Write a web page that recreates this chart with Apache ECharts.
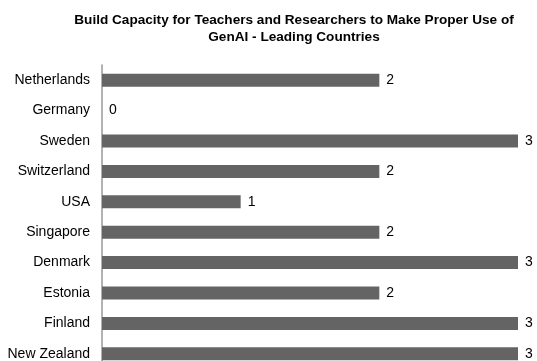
<!DOCTYPE html>
<html>
<head>
<meta charset="utf-8">
<script src="https://cdn.jsdelivr.net/npm/echarts@6/dist/echarts.min.js"></script>
<style>html,body{margin:0;padding:0;background:#fff}#chart{width:537px;height:361px}</style>
</head>
<body>
<div id="chart"></div>
<script>
// Countries, top to bottom, and their scores
const countries = ['Netherlands', 'Germany', 'Sweden', 'Switzerland', 'USA', 'Singapore', 'Denmark', 'Estonia', 'Finland', 'New Zealand'];
const scores = [2, 0, 3, 2, 1, 2, 3, 2, 3, 3];

const chart = echarts.init(document.getElementById('chart'));
chart.setOption({
  backgroundColor: '#ffffff',
  animation: false,
  title: {
    text: 'Build Capacity for Teachers and Researchers to Make Proper Use of\nGenAI - Leading Countries',
    left: 289,
    top: 7,
    textAlign: 'center',
    textStyle: {
      fontFamily: 'Liberation Sans, Arial, sans-serif',
      fontSize: 13.6,
      fontWeight: 'bold',
      color: '#000',
      lineHeight: 17
    }
  },
  grid: { left: 102, top: 65, width: 416, height: 304, containLabel: false, outerBoundsMode: 'none' },
  xAxis: {
    type: 'value',
    min: 0,
    max: 3,
    show: false
  },
  yAxis: {
    type: 'category',
    data: countries,
    inverse: true,
    axisLine: { show: true, lineStyle: { color: '#999999', width: 1.5 } },
    axisTick: { show: false },
    axisLabel: {
      margin: 12,
      color: '#000',
      fontFamily: 'Liberation Sans, Arial, sans-serif',
      fontSize: 14
    }
  },
  series: [{
    type: 'bar',
    data: scores,
    barWidth: 13,
    itemStyle: { color: '#646464' },
    label: {
      show: true,
      position: 'right',
      distance: 7,
      color: '#000',
      fontFamily: 'Liberation Sans, Arial, sans-serif',
      fontSize: 14
    }
  }]
});
</script>
</body>
</html>
